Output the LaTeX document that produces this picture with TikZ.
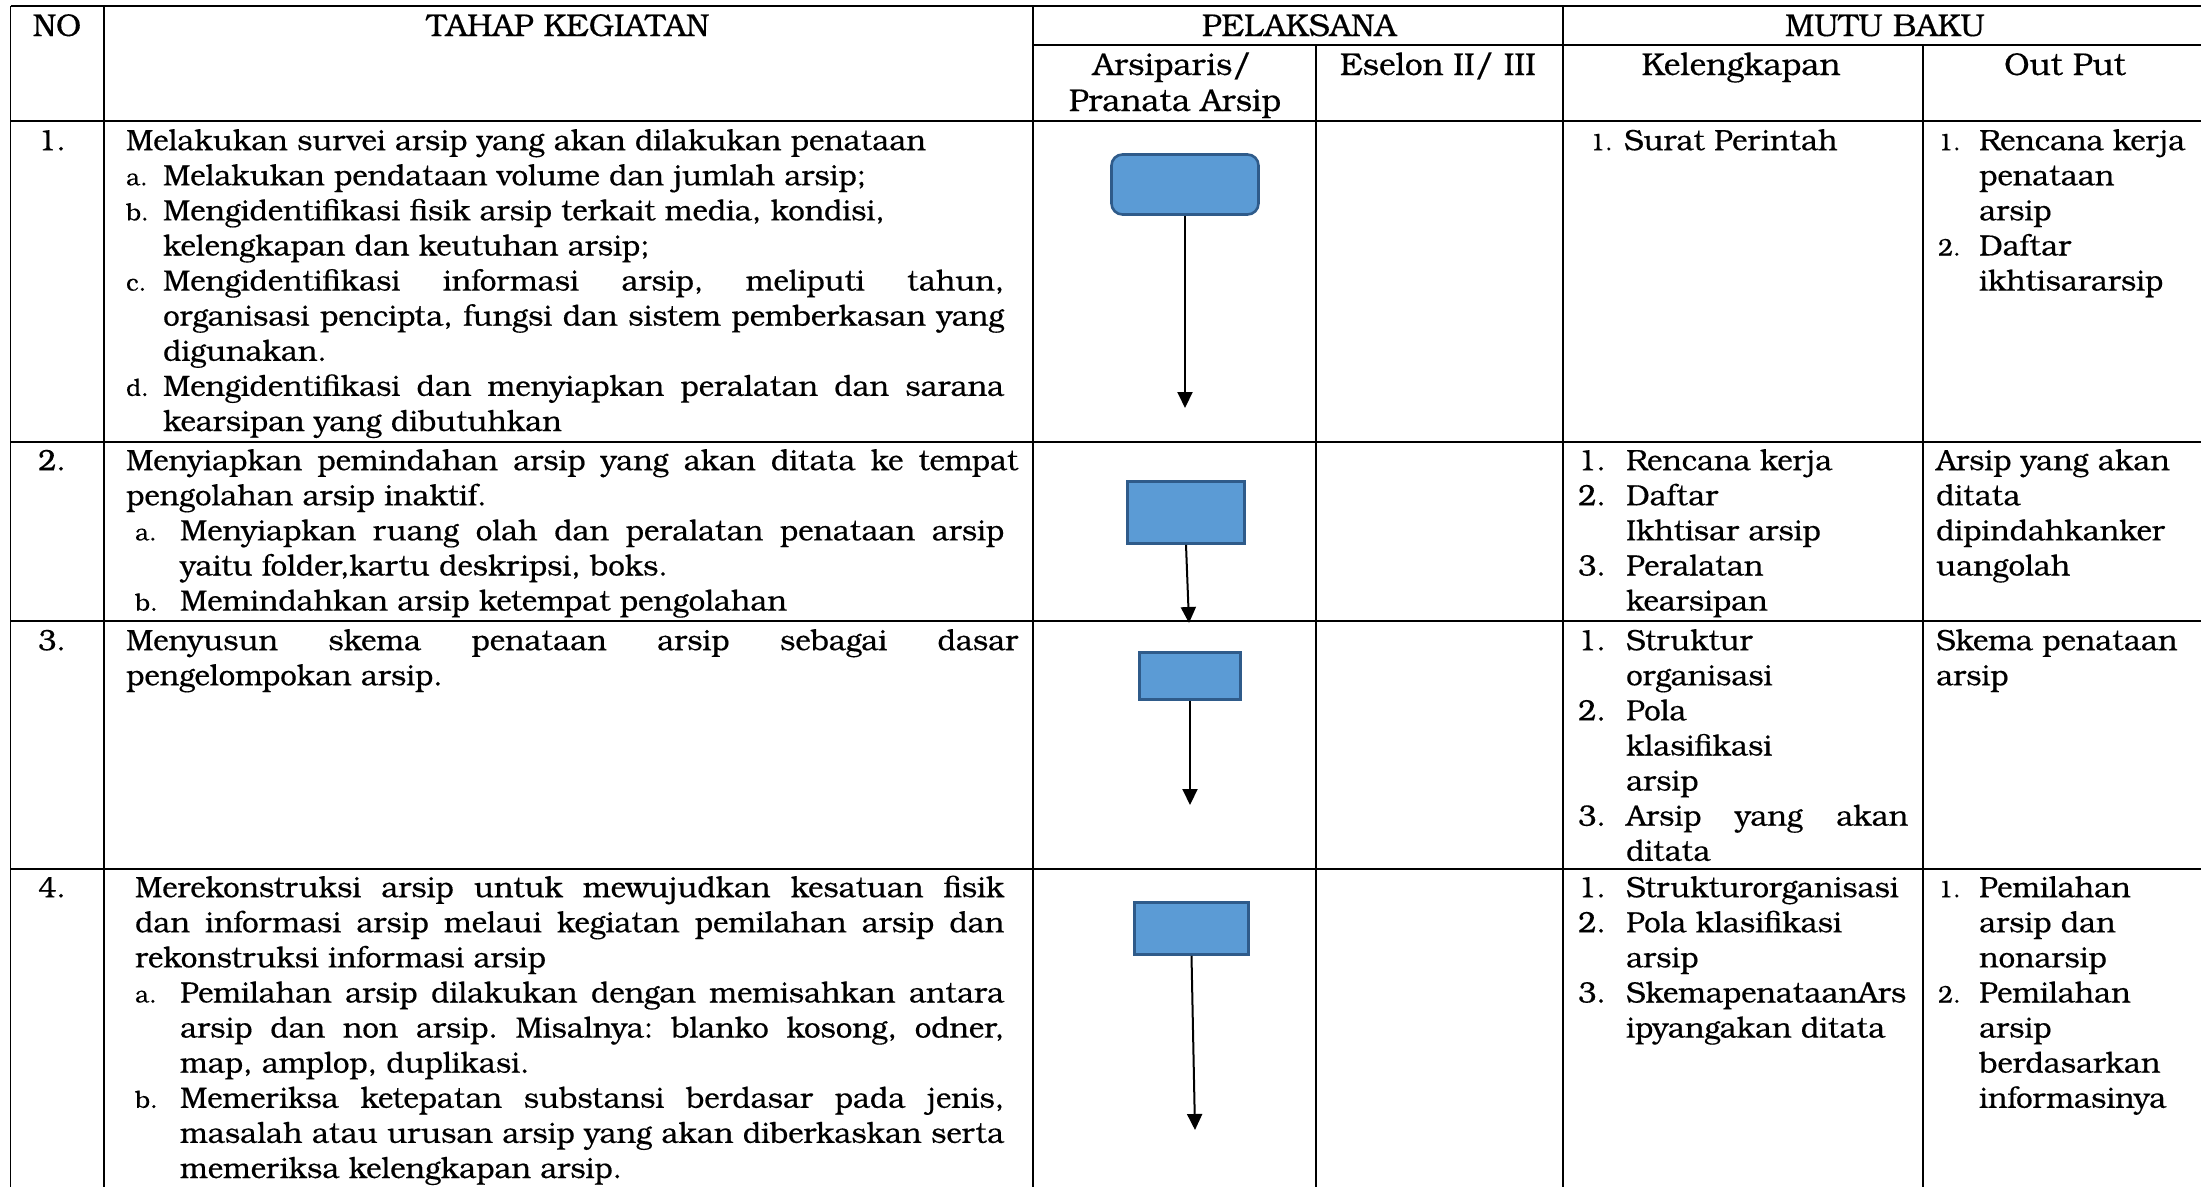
\documentclass[tikz,border=0pt]{standalone}
\usepackage{fontspec}
\setmainfont[FakeBold=0.4]{TeX Gyre Bonum}
\usetikzlibrary{arrows.meta}
\definecolor{boxfill}{HTML}{5B9BD5}
\definecolor{boxline}{HTML}{2F5B8A}
\frenchspacing
% justified line of a given width, list labels, indents
\newcommand\jl[2]{\makebox[#1pt][s]{#2}}
\newcommand\lab[1]{{\fontsize{24}{35.1}\selectfont #1}}
\newcommand\lb[2]{\makebox[#1pt][l]{\lab{#2}}}
\newcommand\nb[2]{\makebox[#1pt][l]{#2}}
\newcommand\ind[1]{\hspace*{#1pt}}
\tikzset{
  grid/.style={line width=1.8pt, black},
  cell/.style={anchor=north west, inner sep=0pt, align=left,
    font=\fontsize{29.4}{35.1}\selectfont},
  head/.style={anchor=base, inner sep=0pt, font=\fontsize{31.5}{36}\selectfont},
  flowbox/.style={draw=boxline, fill=boxfill, line width=2.6pt, inner sep=0pt},
  arr/.style={line width=2pt, black, -{Triangle[width=15pt,length=16pt]}}
}
\begin{document}
\begin{tikzpicture}[x=1pt,y=-1pt]
\useasboundingbox (0,0) rectangle (2201,1187);

% table rules
\draw[grid] (10.5,6) -- (2201,6);
\draw[grid] (1033,45) -- (2201,45);
\foreach \yy in {121,442,621,869} \draw[grid] (10.5,\yy) -- (2201,\yy);
\foreach \xx in {10.5,104,1033,1563} \draw[grid] (\xx,6) -- (\xx,1187);
\foreach \xx in {1316,1923} \draw[grid] (\xx,45) -- (\xx,1187);

% header
\node[head] (hno) at (57,36) {NO};
\node[head] (htk) at (568,36) {TAHAP KEGIATAN};
\node[head] (hpl) at (1299,36) {PELAKSANA};
\node[head] (hmb) at (1885,36) {MUTU BAKU};
\node[head] (har1) at (1172,75) {Arsiparis/};
\node[head] (har2) at (1175,111) {Pranata Arsip};
\node[head] (hes) at (1438,75) {Eselon II/ III};
\node[head] (hkl) at (1741,75) {Kelengkapan};
\node[head] (hop) at (2065,75) {Out Put};

% row numbers
\node[cell] (no1) at (38,125.43) {\strut 1.};
\node[cell] (no2) at (38,445.43) {\strut 2.};
\node[cell] (no3) at (38,625.43) {\strut 3.};
\node[cell] (no4) at (38,872.43) {\strut 4.};

% activity steps
\node[cell] (tk1) at (126,125.43) {%
\strut Melakukan survei arsip yang akan dilakukan penataan\\
\strut\lb{37}{a.}Melakukan pendataan volume dan jumlah arsip;\\
\strut\lb{37}{b.}Mengidentifikasi fisik arsip terkait media, kondisi,\\
\strut\ind{37}kelengkapan dan keutuhan arsip;\\
\strut\lb{37}{c.}\jl{841}{Mengidentifikasi informasi arsip, meliputi tahun,}\\
\strut\ind{37}\jl{841}{organisasi pencipta, fungsi dan sistem pemberkasan yang}\\
\strut\ind{37}digunakan.\\
\strut\lb{37}{d.}\jl{841}{Mengidentifikasi dan menyiapkan peralatan dan sarana}\\
\strut\ind{37}kearsipan yang dibutuhkan};

\node[cell] (tk2) at (126,445.43) {%
\strut\jl{892}{Menyiapkan pemindahan arsip yang akan ditata ke tempat}\\
\strut pengolahan arsip inaktif.\\
\strut\ind{9}\lb{45}{a.}\jl{824}{Menyiapkan ruang olah dan peralatan penataan arsip}\\
\strut\ind{54}yaitu folder,kartu deskripsi, boks.\\
\strut\ind{9}\lb{45}{b.}Memindahkan arsip ketempat pengolahan};

\node[cell] (tk3) at (126,625.43) {%
\strut\jl{892}{Menyusun skema penataan arsip sebagai dasar}\\
\strut pengelompokan arsip.};

\node[cell] (tk4) at (135,872.43) {%
\strut\jl{869}{Merekonstruksi arsip untuk mewujudkan kesatuan fisik}\\
\strut\jl{869}{dan informasi arsip melaui kegiatan pemilahan arsip dan}\\
\strut rekonstruksi informasi arsip\\
\strut\lb{45}{a.}\jl{824}{Pemilahan arsip dilakukan dengan memisahkan antara}\\
\strut\ind{45}\jl{824}{arsip dan non arsip. Misalnya: blanko kosong, odner,}\\
\strut\ind{45}map, amplop, duplikasi.\\
\strut\lb{45}{b.}\jl{824}{Memeriksa ketepatan substansi berdasar pada jenis,}\\
\strut\ind{45}\jl{824}{masalah atau urusan arsip yang akan diberkaskan serta}\\
\strut\ind{45}memeriksa kelengkapan arsip.};

% completeness requirements
\node[cell] (kl1) at (1590,125.43) {\strut\lb{34}{1.}Surat Perintah};
\node[cell] (kl2) at (1578,445.43) {%
\strut\nb{48}{1.}Rencana kerja\\
\strut\nb{48}{2.}Daftar\\
\strut\ind{48}Ikhtisar arsip\\
\strut\nb{48}{3.}Peralatan\\
\strut\ind{48}kearsipan};
\node[cell] (kl3) at (1578,625.43) {%
\strut\nb{48}{1.}Struktur\\
\strut\ind{48}organisasi\\
\strut\nb{48}{2.}Pola\\
\strut\ind{48}klasifikasi\\
\strut\ind{48}arsip\\
\strut\nb{48}{3.}\jl{282}{Arsip yang akan}\\
\strut\ind{48}ditata};
\node[cell] (kl4) at (1578,872.43) {%
\strut\nb{48}{1.}Strukturorganisasi\\
\strut\nb{48}{2.}Pola klasifikasi\\
\strut\ind{48}arsip\\
\strut\nb{48}{3.}SkemapenataanArs\\
\strut\ind{48}ipyangakan ditata};

% outputs
\node[cell] (op1) at (1938,125.43) {%
\strut\lb{41}{1.}Rencana kerja\\
\strut\ind{41}penataan\\
\strut\ind{41}arsip\\
\strut\lb{41}{2.}Daftar\\
\strut\ind{41}ikhtisararsip};
\node[cell] (op2) at (1936,445.43) {%
\strut Arsip yang akan\\
\strut ditata\\
\strut dipindahkanker\\
\strut uangolah};
\node[cell] (op3) at (1936,625.43) {%
\strut Skema penataan\\
\strut arsip};
\node[cell] (op4) at (1938,872.43) {%
\strut\lb{41}{1.}Pemilahan\\
\strut\ind{41}arsip dan\\
\strut\ind{41}nonarsip\\
\strut\lb{41}{2.}Pemilahan\\
\strut\ind{41}arsip\\
\strut\ind{41}berdasarkan\\
\strut\ind{41}informasinya};

% flow boxes and arrows
\node[flowbox, rounded corners=11pt, minimum width=147pt, minimum height=60pt] (b1) at (1185,184.5) {};
\node[flowbox, minimum width=117pt, minimum height=62pt] (b2) at (1186,512.5) {};
\node[flowbox, minimum width=101pt, minimum height=47pt] (b3) at (1190,676) {};
\node[flowbox, minimum width=114pt, minimum height=52pt] (b4) at (1191.5,928.5) {};

\coordinate (t1) at (1185,408);
\coordinate (t2) at (1189,623);
\coordinate (t3) at (1190,805);
\coordinate (t4) at (1195,1130);

\draw[arr] (b1.south) -- (t1);
\draw[arr] (b2.south) -- (t2);
\draw[arr] (b3.south) -- (t3);
\draw[arr] (b4.south) -- (t4);
\end{tikzpicture}
\end{document}
